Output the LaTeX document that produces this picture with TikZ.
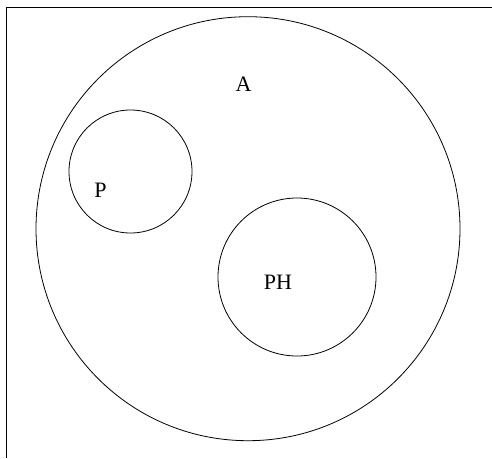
\documentclass[tikz,border=0pt]{standalone}
\usepackage{fontspec}
\setmainfont{Liberation Serif}
\begin{document}
\begin{tikzpicture}[x=1pt,y=-1pt,
  setc/.style={draw, circle, line width=0.8pt, inner sep=0pt},
  lbl/.style={inner sep=0pt, font=\fontsize{22}{26}\selectfont}]
\useasboundingbox (0,0) rectangle (492,458);
\coordinate (tl) at (6.7,7.3);
\coordinate (tr) at (492,7.3);
\coordinate (bl) at (6.7,458);
\draw[line width=1pt] (tr) -- (tl) -- (bl);
\node[setc, minimum size=424pt] (A) at (248,228.7) {};
\node[setc, minimum size=123pt] (P) at (130.5,171.5) {};
\node[setc, minimum size=158pt] (PH) at (297,277) {};
\node[lbl] (lA) at (243.5,84.5) {A};
\node[lbl] (lP) at (100.5,190) {P};
\node[lbl] (lPH) at (278,282.5) {PH};
\end{tikzpicture}
\end{document}
